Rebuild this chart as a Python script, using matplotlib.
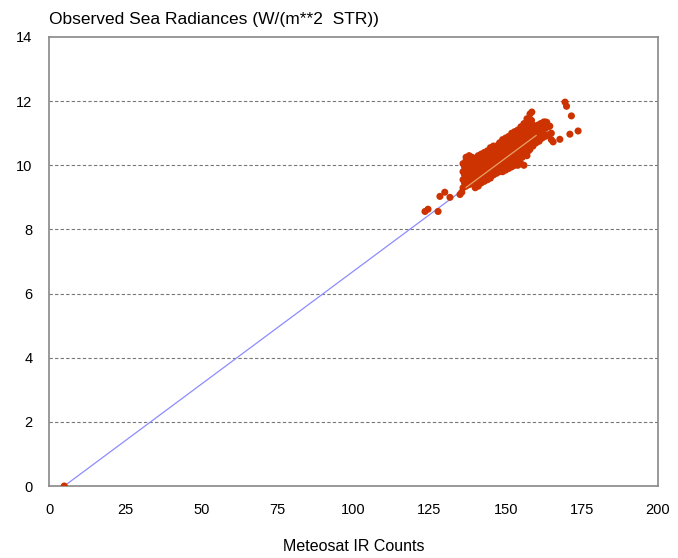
import matplotlib.pyplot as plt

plt.rcParams['font.family'] = ['Liberation Sans', 'DejaVu Sans']

# hand-read scatter points (Meteosat counts, radiance)
cluster = {
    136: [9.3, 9.55, 9.8, 10.05],
    136.5: [9.45, 9.7, 9.95],
    137: [9.35, 9.6, 9.9, 10.15, 10.25],
    137.5: [9.5, 9.75, 10.05, 10.2],
    138: [9.4, 9.7, 9.95, 10.2, 10.3],
    138.5: [9.55, 9.8, 10.05, 10.15],
    139: [9.45, 9.65, 9.85, 10.1, 10.25],
    139.5: [9.4, 9.6, 9.9, 10.05, 10.2],
    140: [9.3, 9.55, 9.75, 10.0, 10.2],
    140.5: [9.45, 9.7, 9.85, 10.1],
    141: [9.35, 9.6, 9.9, 10.1, 10.3],
    141.5: [9.5, 9.75, 10.0, 10.2],
    142: [9.45, 9.7, 9.95, 10.15, 10.35],
    142.5: [9.6, 9.85, 10.05, 10.25],
    143: [9.5, 9.75, 10.0, 10.2, 10.4],
    143.5: [9.65, 9.9, 10.15, 10.35],
    144: [9.55, 9.8, 10.05, 10.3, 10.45],
    144.5: [9.7, 9.95, 10.2, 10.4],
    145: [9.6, 9.85, 10.1, 10.35, 10.55],
    145.5: [9.75, 10.0, 10.25, 10.45],
    146: [9.7, 9.95, 10.2, 10.4, 10.6],
    146.5: [9.85, 10.1, 10.3, 10.5],
    147: [9.75, 10.0, 10.25, 10.5, 10.6],
    147.5: [9.9, 10.15, 10.4, 10.6],
    148: [9.8, 10.05, 10.3, 10.55, 10.7],
    148.5: [9.95, 10.2, 10.45, 10.65],
    149: [9.8, 10.1, 10.35, 10.6, 10.8],
    149.5: [9.95, 10.25, 10.5, 10.7],
    150: [9.85, 10.15, 10.4, 10.65, 10.85],
    150.5: [10.0, 10.3, 10.55, 10.75],
    151: [9.9, 10.2, 10.45, 10.7, 10.9],
    151.5: [10.05, 10.35, 10.6, 10.8],
    152: [9.95, 10.25, 10.5, 10.75, 11.0],
    152.5: [10.1, 10.4, 10.65, 10.9],
    153: [10.0, 10.3, 10.55, 10.8, 11.05],
    153.5: [10.15, 10.45, 10.7, 10.95],
    154: [10.0, 10.35, 10.6, 10.85, 11.1],
    154.5: [10.2, 10.5, 10.75, 11.0],
    155: [10.05, 10.4, 10.65, 10.9, 11.2],
    155.5: [10.25, 10.55, 10.8, 11.05],
    156: [10.0, 10.45, 10.7, 10.95, 11.3],
    156.5: [10.35, 10.6, 10.85, 11.15],
    157: [10.3, 10.55, 10.8, 11.05, 11.45],
    157.5: [10.45, 10.65, 10.95, 11.3],
    158: [10.5, 10.7, 10.9, 11.2, 11.6],
    158.5: [10.6, 10.8, 11.1, 11.4],
    159: [10.6, 10.8, 11.0, 11.25],
    159.5: [10.7, 10.95, 11.15],
    160: [10.7, 10.9, 11.1],
    160.5: [10.8, 11.05, 11.25],
    161: [10.75, 11.0, 11.2],
    161.5: [10.85, 11.1, 11.3],
    162: [10.85, 11.1, 11.3],
    162.5: [10.95, 11.2, 11.35],
    163: [10.9, 11.15, 11.35],
    164: [10.95, 11.2],
    165: [10.8, 11.0],
}

extra_x = [5, 123.5, 124.5, 127.8, 128.4, 130, 131.7, 135, 135.6,
           169.5, 170, 171.6, 173.8, 171.1, 167.8, 165.6, 158.6, 163.5, 164.5]
extra_y = [0.0, 8.56, 8.63, 8.56, 9.03, 9.16, 9.0, 9.09, 9.16,
           11.97, 11.84, 11.54, 11.07, 10.97, 10.81, 10.73, 11.66, 11.34, 11.22]

fit_x = [5, 163]
fit_y = [0.0, 11.14]
fit_inner_x = [137, 160]
fit_inner_y = [9.31, 10.93]

xs = []
ys = []
for cx, vals in cluster.items():
    for v in vals:
        xs.append(cx)
        ys.append(v)
xs += extra_x
ys += extra_y

fig = plt.figure(figsize=(6.78, 5.58), dpi=100)
ax = fig.add_axes([0.0723, 0.129, 0.898, 0.8047])

ax.plot(fit_x, fit_y, color='#8c8cff', lw=0.9, zorder=2)
ax.scatter(xs, ys, s=26, color='#cc3300', edgecolors='none', zorder=3)
ax.plot(fit_inner_x, fit_inner_y, color='#e6a06a', lw=0.9, zorder=4)

ax.set_xlim(0, 200)
ax.set_ylim(0, 14)
ax.set_xticks(range(0, 201, 25))
ax.set_yticks(range(0, 15, 2))
ax.tick_params(length=0, labelsize=10.5, pad=12)
for t in [2, 4, 6, 8, 10, 12]:
    ax.axhline(t, color='#777777', lw=0.8, ls=(0, (3, 2)), zorder=1)
for s in ax.spines.values():
    s.set_color('#888888')
    s.set_linewidth(1.2)

ax.set_xlabel('Meteosat IR Counts', fontsize=11.5, labelpad=16)
fig.text(0.0723, 0.952, 'Observed Sea Radiances (W/(m**2  STR))', fontsize=12.5,
         ha='left', va='bottom')

fig.savefig('out.png', dpi=100)
